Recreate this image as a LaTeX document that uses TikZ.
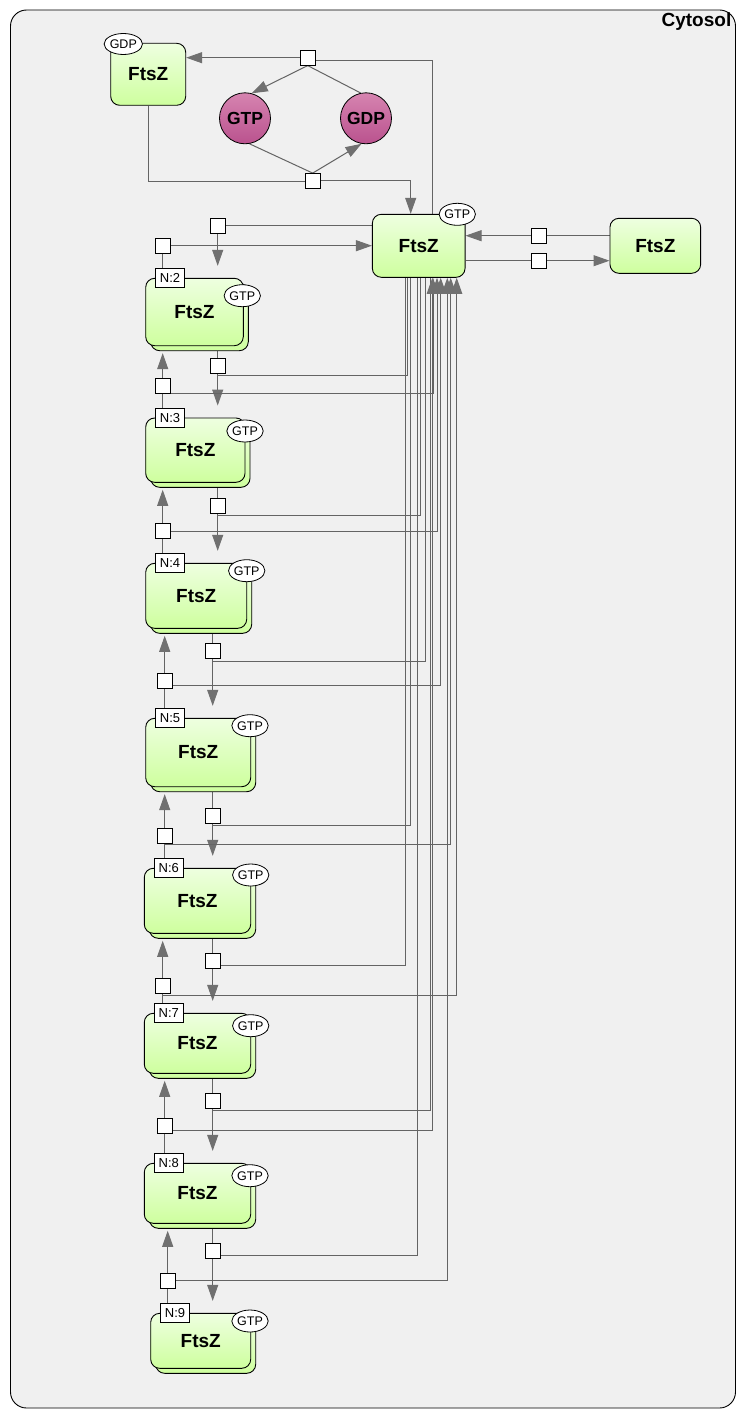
\documentclass[tikz,border=0pt]{standalone}
\usepackage{fontspec}
\setmainfont{Liberation Sans}
\usetikzlibrary{arrows.meta,calc,shapes.geometric}
\pgfdeclarelayer{back}
\pgfdeclarelayer{bg}
\pgfsetlayers{back,bg,main}
\definecolor{cbg}{RGB}{240,240,240}
\definecolor{gtop}{RGB}{238,255,224}
\definecolor{gbot}{RGB}{206,255,158}
\definecolor{ptop}{RGB}{214,132,176}
\definecolor{pbot}{RGB}{186,82,142}
\definecolor{lc}{RGB}{100,100,100}
\definecolor{ac}{RGB}{112,112,112}
\tikzset{
  ftsz/.style={rectangle, draw=black, line width=0.9pt, rounded corners=9pt, top color=gtop, bottom color=gbot, font=\fontsize{19}{22}\selectfont\bfseries, inner sep=0pt},
  mol/.style={circle, draw=black, line width=0.8pt, top color=ptop, bottom color=pbot, minimum size=51pt, inner sep=0pt, font=\fontsize{17.5}{20}\selectfont\bfseries},
  stvar/.style={ellipse, draw=black, line width=0.8pt, fill=white, minimum width=34pt, minimum height=22pt, inner sep=0pt, font=\fontsize{12.5}{14}\selectfont},
  mlabel/.style={rectangle, draw=black, line width=0.8pt, fill=white, minimum width=29pt, minimum height=19pt, inner sep=0pt, font=\fontsize{13}{15}\selectfont},
  proc/.style={rectangle, draw=black, line width=0.8pt, fill=white, minimum size=15pt, inner sep=0pt},
  conn/.style={draw=lc, line width=1pt},
  prod/.style={conn, -{Triangle[length=16pt,width=11pt,color=ac]}}
}
\begin{document}
\begin{tikzpicture}[x=1pt,y=-1pt]
\begin{pgfonlayer}{back}
\fill[white] (0,0) rectangle (745,1418);
\draw[fill=cbg, line width=0.9pt, rounded corners=16pt] (10.5,10) rectangle (735.5,1408);
\end{pgfonlayer}
\node[anchor=east, inner sep=0pt, font=\fontsize{19}{22}\selectfont\bfseries] (cyto) at (731.5,21.5) {Cytosol};

% main species
\node[ftsz, minimum width=92.7pt, minimum height=63pt] (m) at (418.7,245.8) {FtsZ};
\node[stvar] (mG) at (457.3,214.3) {GTP};
\node[ftsz, minimum width=90.7pt, minimum height=55pt] (r) at (655.3,245.8) {FtsZ};
\node[ftsz, minimum width=75pt, minimum height=62pt] (g) at (148.2,74.3) {FtsZ};
\node[stvar, minimum width=36pt, minimum height=21pt] (gG) at (123.3,44) {GDP};
\node[mol] (cGTP) at (245,118.3) {GTP};
\node[mol] (cGDP) at (366,118.3) {GDP};

% multimers
\foreach \k/\l/\t/\r/\b/\gx/\gy/\lx in {
2/145.7/278.3/243.3/345.7/242.3/295.7/170,
3/145.7/418/245/482.3/245/431/170,
4/145.7/563.3/246.7/628.3/246.7/570.7/170,
5/145.7/718.3/250.7/786.7/250/725.7/170,
6/144.3/868.3/250.7/933.3/250.7/875/168.8,
7/144.3/1013.3/250.7/1073.3/250.7/1025.7/168.8,
8/144.3/1163.3/250.7/1223.3/250/1175.7/168.8,
9/150.7/1313.3/250.7/1368.3/250/1321/175}{
  \node[ftsz, minimum width={(\r-\l)*1pt}, minimum height={(\b-\t)*1pt}] (b\k) at ({(\l+\r)/2+5},{(\t+\b)/2+5}) {};
  \node[ftsz, minimum width={(\r-\l)*1pt}, minimum height={(\b-\t)*1pt}] (n\k) at ({(\l+\r)/2},{(\t+\b)/2}) {FtsZ};
  \node[stvar] (s\k) at (\gx,\gy) {GTP};
  \node[mlabel] (l\k) at (\lx,\t) {N:\k};
}

% process nodes (top part)
\node[proc] (pt) at (307.7,57.7) {};
\node[proc] (pb) at (312.7,181) {};
\node[proc] (pr1) at (539,235.7) {};
\node[proc] (pr2) at (539,260.7) {};
\node[proc] (s0a) at (217.7,225.7) {};
\node[proc] (s0b) at (162.7,245.7) {};
\coordinate (xa) at (432.7,60.5);
\coordinate (xb) at (410.7,180);

\begin{pgfonlayer}{bg}
\draw[prod] (pt.west) -- (pt -| g.east);
\draw[conn] (pt.east |- xa) -- (xa) -- (xa |- m.north);
\draw[prod] (pt.south) -- (cGTP.75);
\draw[conn] (pt.south) -- (cGDP.102);
\draw[conn] (g.south) |- (pb.west);
\draw[conn] (cGTP.-80) -- (pb.north);
\draw[prod] (pb.north) -- (cGDP.-100);
\draw[prod] (pb.east |- xb) -- (xb) -- (xb |- m.north);
\draw[conn] (r.west |- pr1) -- (pr1.east);
\draw[prod] (pr1.west) -- (pr1 -| m.east);
\draw[conn] (m.east |- pr2) -- (pr2.west);
\draw[prod] (pr2.east) -- (pr2 -| r.west);
\draw[conn] (m.west |- s0a) -- (s0a.east);
\draw[prod] (s0a.south) -- ($(s0a |- n2.north)+(0,-12)$);
\draw[prod] (s0b.east) -- (s0b -| m.west);
\draw[conn] (s0b.south) -- (s0b |- l2.north);
\end{pgfonlayer}

% chain transitions
\foreach \k/\dx/\dy/\cx/\cy/\ux/\uy/\ax/\ay in {
2/217.7/365.7/407/375.5/162.7/385.7/433/393.3,
3/217.7/505.7/420/515.7/162.7/530.7/437/531,
4/212.7/650.7/425.7/661/164.7/680.7/440.7/685,
5/212.7/815.7/410.7/825.7/164.7/836/450.7/844,
6/212.7/961/405.7/965.7/162.7/986/456.7/995,
7/212.7/1100.7/430.7/1110.7/164.7/1125.7/432.3/1130,
8/212.7/1250.7/417.3/1255/167.7/1280.7/447.3/1280}{
  \pgfmathtruncatemacro{\kn}{\k+1}
  \node[proc] (d\k) at (\dx,\dy) {};
  \node[proc] (u\k) at (\ux,\uy) {};
  \coordinate (c\k) at (\cx,\cy);
  \coordinate (a\k) at (\ax,\ay);
  \begin{pgfonlayer}{bg}
  \draw[conn] (b\k.south -| d\k) -- (d\k.north);
  \draw[prod] (d\k.south) -- ($(d\k |- n\kn.north)+(0,-12)$);
  \draw[conn] (d\k |- c\k) -- (c\k) -- (c\k |- m.south);
  \draw[prod] (u\k.north) -- ($(u\k |- b\k.south)+(0,2)$);
  \draw[conn] (u\k.south) -- (u\k |- l\kn.north);
  \draw[prod] (u\k |- a\k) -- (a\k) -- (a\k |- m.south);
  \end{pgfonlayer}
}
\end{tikzpicture}
\end{document}
